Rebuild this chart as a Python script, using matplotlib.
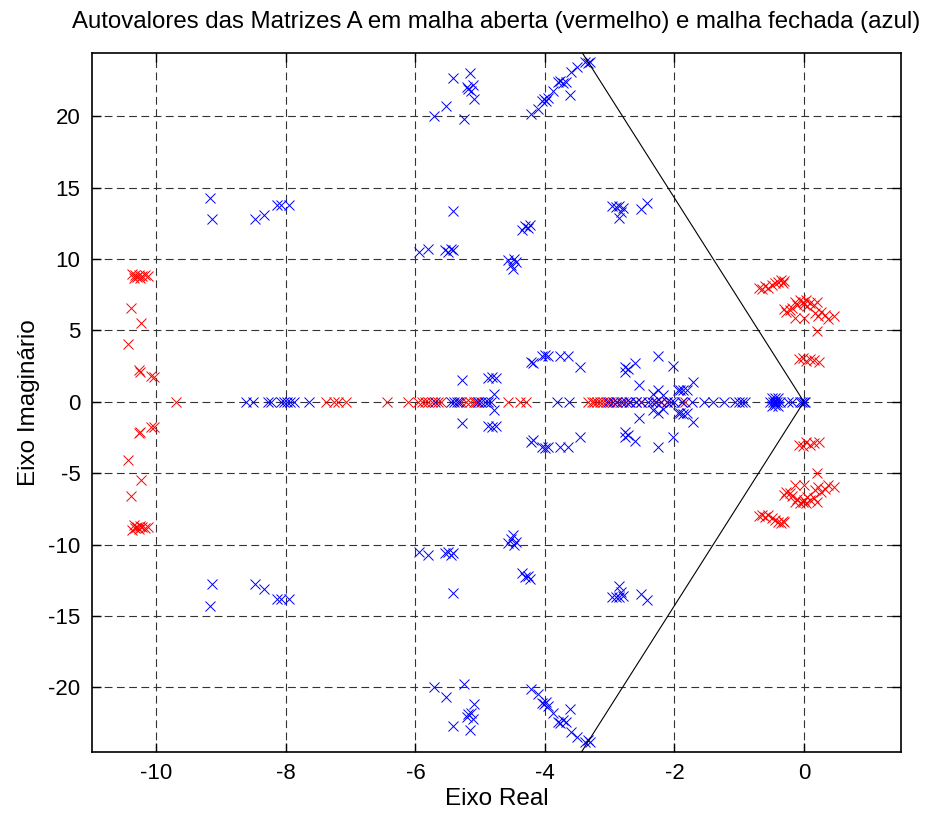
import numpy as np
import matplotlib
matplotlib.use("Agg")
import matplotlib.pyplot as plt

plt.rcParams['font.family'] = ['Liberation Sans', 'DejaVu Sans']
plt.rcParams['axes.unicode_minus'] = False

# Autovalores em malha aberta: parte real dos polos reais
aberta_reais = [-9.69, -7.38, -7.25, -7.20, -7.07, -6.44, -6.12, -5.96, -5.90,
                -5.85, -5.80, -5.75, -5.65, -5.60, -5.29, -5.22, -5.15, -5.10,
                -5.06, -5.03, -4.57, -4.39, -4.29, -3.33, -3.28, -3.24, -3.20,
                -3.15, -3.10, -3.05, -3.00, -2.90, -2.80, -2.70, -2.60, -2.51,
                -2.30, -2.20, -2.12, -1.89, -1.84]

# Malha aberta: pares complexos (semiplano superior, conjugados desenhados abaixo)
aberta_re = [-10.38, -10.33, -10.30, -10.27, -10.25, -10.22, -10.18, -10.13, -10.35,
             -10.39, -10.24, -10.44, -10.27, -10.26, -10.09, -10.04,
             -0.70, -0.65, -0.60, -0.55, -0.50, -0.45, -0.40, -0.36, -0.33, -0.30,
             -0.31, -0.27, -0.22, -0.19,
             -0.14, -0.10, -0.06, -0.02, 0.00, 0.03, 0.05, 0.10, 0.15, 0.20,
             -0.13, 0.00, 0.17, 0.22, 0.27, 0.32, 0.38, 0.46, 0.20,
             -0.08, -0.02, 0.03, 0.10, 0.16, 0.23]
aberta_im = [8.95, 8.85, 8.75, 8.90, 8.70, 8.80, 8.85, 8.80, 8.65,
             6.60, 5.50, 4.06, 2.20, 2.10, 1.80, 1.75,
             8.00, 7.90, 8.10, 7.95, 8.15, 8.30, 8.40, 8.50, 8.35, 8.45,
             6.50, 6.30, 6.40, 6.60,
             7.00, 6.80, 7.10, 7.00, 6.85, 7.10, 6.70, 6.90, 6.75, 7.00,
             5.84, 5.84, 6.20, 6.00, 6.30, 6.10, 5.80, 6.00, 4.97,
             3.00, 3.10, 2.85, 3.00, 2.90, 2.80]

# Malha fechada: polos reais
fechada_reais = [-8.62, -8.51, -8.28, -8.23, -8.08, -8.03, -7.98, -7.93, -7.88,
                 -7.64, -5.70, -5.45, -5.40, -5.35, -5.32, -5.03, -4.98, -4.93,
                 -4.88, -4.83, -3.81, -3.63, -3.02, -2.95, -2.88, -2.82, -2.75,
                 -2.68, -2.60, -2.51, -2.40, -2.35, -2.28, -2.20, -2.12, -2.05,
                 -2.00, -1.89, -1.73, -1.55, -1.40, -1.24, -1.06, -1.00, -0.95,
                 -0.91, -0.52, -0.48, -0.45, -0.42, -0.37, -0.24, -0.19, -0.06,
                 -0.03, 0.00, 0.02]

# Malha fechada: pares complexos (semiplano superior)
fechada_re = [-9.17, -9.14, -8.48, -8.34, -8.13, -8.08, -7.95,
              -5.42, -5.16, -5.21, -5.18, -5.14, -5.11, -5.10, -5.53, -5.71, -5.25,
              -4.21, -4.10, -4.05, -4.02, -3.98, -3.95, -3.87, -3.80, -3.76, -3.72,
              -3.67, -3.61, -3.59, -3.51, -3.38, -3.34, -3.31,
              -5.42, -5.94, -5.81, -5.55, -5.50, -5.45, -5.42,
              -4.57, -4.53, -4.50, -4.47, -4.44,
              -4.36, -4.30, -4.26, -4.23,
              -2.97, -2.90, -2.85, -2.83, -2.85, -2.79, -2.51, -2.43,
              -5.28, -4.88, -4.82, -4.75, -4.79,
              -4.21, -4.18, -4.05, -4.00, -3.95, -3.77, -3.64, -3.46,
              -2.76, -2.76, -2.72, -2.61, -2.54, -2.25, -2.02, -2.33, -2.25, -2.17,
              -1.94, -1.86, -1.80, -1.71, -1.91,
              -0.50, -0.45, -0.40]
fechada_im = [14.30, 12.80, 12.80, 13.10, 13.80, 13.80, 13.80,
              22.70, 23.00, 22.05, 21.90, 21.80, 22.20, 21.20, 20.70, 20.00, 19.80,
              20.15, 20.50, 21.10, 21.20, 21.05, 21.30, 21.80, 22.40, 22.50, 22.30,
              22.40, 21.50, 23.10, 23.46, 23.80, 23.70, 23.80,
              13.40, 10.50, 10.70, 10.60, 10.50, 10.70, 10.60,
              9.90, 9.60, 9.30, 10.00, 9.80,
              12.00, 12.30, 12.20, 12.40,
              13.70, 13.65, 13.70, 13.30, 12.90, 13.60, 13.50, 13.90,
              1.52, 1.70, 1.75, 1.70, 0.55,
              2.80, 2.69, 3.20, 3.25, 3.20, 3.20, 3.20, 2.45,
              2.45, 2.10, 2.30, 2.73, 1.17, 3.20, 2.50, 0.55, 0.80, 0.50,
              0.82, 0.85, 0.82, 1.40, 0.82,
              0.30, 0.25, 0.30]

# reta de amortecimento
reta_re = [-3.5, 0.0, -3.5]
reta_im = [25.0, 0.0, -25.0]


def polos(reais, re, im):
    x = np.concatenate([reais, re, re])
    y = np.concatenate([np.zeros(len(reais)), im, -np.array(im)])
    return x, y


fig = plt.figure(figsize=(9.26, 8.23), dpi=100)
ax = fig.add_axes([0.099, 0.086, 0.874, 0.849])

xa, ya = polos(aberta_reais, aberta_re, aberta_im)
xf, yf = polos(fechada_reais, fechada_re, fechada_im)

ax.plot(xa, ya, 'x', color='red', markersize=7, markeredgewidth=0.7)
ax.plot(xf, yf, 'x', color='blue', markersize=7, markeredgewidth=0.7)
ax.plot(reta_re, reta_im, '-', color='black', linewidth=0.8)

ax.set_xlim(-11, 1.5)
ax.set_ylim(-24.55, 24.4)
ax.set_xticks(np.arange(-10, 1, 2))
ax.set_yticks(np.arange(-20, 21, 5))
ax.grid(True, color='0.2', linestyle=(0, (7, 4)), linewidth=0.8)
ax.tick_params(direction='in', length=6.5, width=1, top=True, right=True,
               labelsize=16, pad=8)
for s in ax.spines.values():
    s.set_linewidth(1.2)

ax.set_title('Autovalores das Matrizes A em malha aberta (vermelho) e malha fechada (azul)',
             fontsize=17.3, pad=18)
ax.set_xlabel('Eixo Real', fontsize=17.5, labelpad=3)
ax.set_ylabel('Eixo Imaginário', fontsize=17.5, labelpad=6)

fig.savefig('out.png', dpi=100)
